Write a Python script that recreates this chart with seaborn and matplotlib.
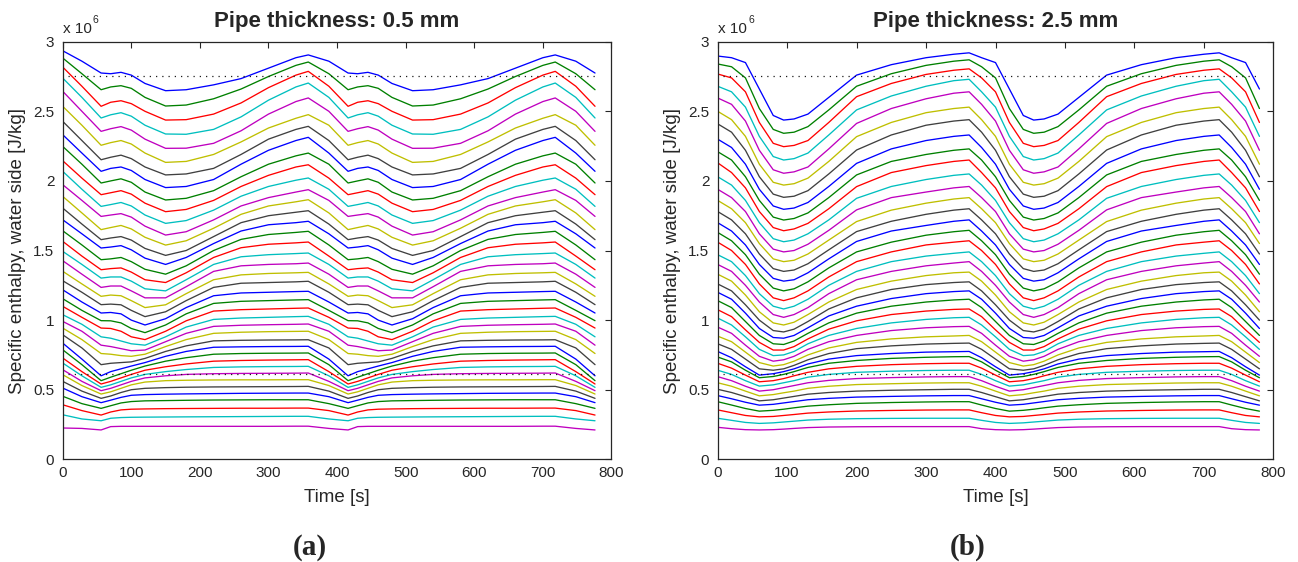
import numpy as np
import pandas as pd
import matplotlib
matplotlib.use("Agg")
import matplotlib.pyplot as plt
import seaborn as sns

# ---------------- data (enthalpy in 10^6 J/kg) ----------------
# knot times of one 360 s cycle (panel a and panel b)
t_cycle_a = [0, 28, 56, 70, 85, 100, 120, 150, 180, 220, 260, 300, 340, 358]
t_cycle_b = [0, 20, 40, 60, 80, 95, 110, 130, 160, 200, 250, 300, 340, 362]
cycle_shift = [0, 360, 720]

# one row per node (top = outlet ... bottom = inlet), values at the knot times
enthalpy_a = [
    [2.935, 2.86, 2.775, 2.77, 2.78, 2.76, 2.70, 2.648, 2.655, 2.69, 2.735, 2.81, 2.885, 2.905],
    [2.883, 2.77, 2.655, 2.675, 2.684, 2.665, 2.60, 2.538, 2.545, 2.59, 2.66, 2.75, 2.83, 2.854],
    [2.818, 2.68, 2.536, 2.565, 2.576, 2.555, 2.50, 2.437, 2.44, 2.48, 2.56, 2.67, 2.76, 2.787],
    [2.739, 2.60, 2.452, 2.475, 2.49, 2.465, 2.40, 2.337, 2.335, 2.37, 2.46, 2.58, 2.675, 2.703],
    [2.644, 2.50, 2.356, 2.375, 2.39, 2.365, 2.30, 2.234, 2.235, 2.27, 2.36, 2.48, 2.57, 2.596],
    [2.536, 2.40, 2.256, 2.275, 2.29, 2.265, 2.20, 2.133, 2.14, 2.19, 2.28, 2.38, 2.45, 2.476],
    [2.428, 2.29, 2.152, 2.17, 2.185, 2.16, 2.10, 2.043, 2.05, 2.09, 2.19, 2.30, 2.37, 2.392],
    [2.332, 2.20, 2.069, 2.09, 2.10, 2.075, 2.01, 1.952, 1.96, 2.01, 2.12, 2.22, 2.29, 2.313],
    [2.248, 2.12, 1.985, 2.00, 2.015, 1.99, 1.92, 1.863, 1.875, 1.93, 2.03, 2.12, 2.18, 2.200],
    [2.145, 2.02, 1.901, 1.915, 1.93, 1.905, 1.84, 1.779, 1.795, 1.86, 1.96, 2.04, 2.10, 2.116],
    [2.069, 1.94, 1.817, 1.83, 1.845, 1.82, 1.755, 1.695, 1.715, 1.79, 1.89, 1.96, 2.005, 2.021],
    [1.973, 1.86, 1.745, 1.755, 1.765, 1.74, 1.675, 1.611, 1.635, 1.72, 1.82, 1.88, 1.92, 1.937],
    [1.889, 1.77, 1.650, 1.665, 1.68, 1.655, 1.595, 1.539, 1.57, 1.66, 1.76, 1.82, 1.85, 1.865],
    [1.805, 1.69, 1.578, 1.59, 1.60, 1.575, 1.515, 1.465, 1.50, 1.60, 1.70, 1.75, 1.775, 1.786],
    [1.721, 1.62, 1.518, 1.525, 1.535, 1.505, 1.445, 1.40, 1.45, 1.55, 1.64, 1.685, 1.70, 1.710],
    [1.642, 1.54, 1.434, 1.44, 1.45, 1.42, 1.365, 1.33, 1.39, 1.50, 1.58, 1.615, 1.63, 1.638],
    [1.566, 1.46, 1.362, 1.37, 1.375, 1.345, 1.29, 1.27, 1.34, 1.45, 1.52, 1.545, 1.555, 1.561],
    [1.494, 1.40, 1.302, 1.31, 1.31, 1.28, 1.225, 1.21, 1.29, 1.40, 1.455, 1.47, 1.478, 1.482],
    [1.427, 1.33, 1.235, 1.245, 1.245, 1.21, 1.16, 1.16, 1.24, 1.35, 1.39, 1.40, 1.405, 1.410],
    [1.351, 1.26, 1.171, 1.18, 1.175, 1.14, 1.09, 1.11, 1.19, 1.29, 1.325, 1.335, 1.34, 1.343],
    [1.283, 1.20, 1.111, 1.115, 1.11, 1.07, 1.025, 1.06, 1.14, 1.235, 1.265, 1.27, 1.275, 1.279],
    [1.218, 1.13, 1.051, 1.055, 1.045, 1.00, 0.965, 1.01, 1.09, 1.175, 1.195, 1.20, 1.205, 1.207],
    [1.154, 1.07, 0.996, 0.995, 0.98, 0.94, 0.91, 0.965, 1.045, 1.12, 1.135, 1.14, 1.145, 1.147],
    [1.099, 1.02, 0.943, 0.94, 0.92, 0.88, 0.86, 0.92, 0.995, 1.065, 1.075, 1.08, 1.085, 1.087],
    [1.039, 0.97, 0.880, 0.87, 0.85, 0.83, 0.82, 0.88, 0.95, 1.005, 1.015, 1.02, 1.025, 1.027],
    [0.991, 0.92, 0.820, 0.81, 0.795, 0.78, 0.785, 0.845, 0.905, 0.955, 0.963, 0.967, 0.970, 0.972],
    [0.943, 0.86, 0.760, 0.755, 0.745, 0.74, 0.755, 0.81, 0.86, 0.905, 0.913, 0.917, 0.919, 0.920],
    [0.895, 0.80, 0.680, 0.69, 0.695, 0.70, 0.725, 0.775, 0.815, 0.851, 0.855, 0.857, 0.858, 0.859],
    [0.835, 0.72, 0.600, 0.63, 0.65, 0.67, 0.695, 0.74, 0.775, 0.805, 0.808, 0.810, 0.811, 0.812],
    [0.787, 0.68, 0.565, 0.59, 0.615, 0.64, 0.67, 0.705, 0.73, 0.755, 0.760, 0.762, 0.763, 0.764],
    [0.728, 0.63, 0.541, 0.56, 0.585, 0.61, 0.64, 0.665, 0.685, 0.705, 0.710, 0.713, 0.715, 0.716],
    [0.692, 0.60, 0.517, 0.535, 0.56, 0.585, 0.61, 0.63, 0.645, 0.66, 0.664, 0.666, 0.667, 0.668],
    [0.644, 0.56, 0.493, 0.51, 0.535, 0.56, 0.585, 0.60, 0.61, 0.615, 0.617, 0.618, 0.619, 0.620],
    [0.608, 0.53, 0.469, 0.485, 0.51, 0.535, 0.555, 0.565, 0.568, 0.57, 0.571, 0.571, 0.572, 0.572],
    [0.560, 0.49, 0.438, 0.455, 0.48, 0.50, 0.51, 0.515, 0.518, 0.52, 0.521, 0.522, 0.523, 0.524],
    [0.512, 0.45, 0.407, 0.425, 0.445, 0.46, 0.465, 0.468, 0.47, 0.472, 0.474, 0.475, 0.476, 0.476],
    [0.453, 0.40, 0.366, 0.385, 0.405, 0.415, 0.42, 0.422, 0.424, 0.426, 0.427, 0.428, 0.428, 0.428],
    [0.392, 0.35, 0.318, 0.34, 0.355, 0.36, 0.362, 0.364, 0.365, 0.366, 0.367, 0.367, 0.368, 0.368],
    [0.320, 0.29, 0.277, 0.295, 0.30, 0.302, 0.303, 0.304, 0.305, 0.306, 0.307, 0.308, 0.309, 0.309],
    [0.225, 0.222, 0.211, 0.235, 0.237, 0.237, 0.237, 0.237, 0.237, 0.237, 0.237, 0.237, 0.238, 0.238],
]

enthalpy_b = [
    [2.897, 2.885, 2.85, 2.66, 2.47, 2.437, 2.445, 2.48, 2.60, 2.76, 2.835, 2.885, 2.91, 2.92],
    [2.84, 2.82, 2.74, 2.52, 2.37, 2.342, 2.35, 2.39, 2.51, 2.68, 2.77, 2.83, 2.86, 2.87],
    [2.768, 2.74, 2.64, 2.42, 2.27, 2.246, 2.255, 2.29, 2.42, 2.605, 2.70, 2.765, 2.795, 2.805],
    [2.68, 2.64, 2.53, 2.32, 2.175, 2.15, 2.16, 2.20, 2.33, 2.51, 2.61, 2.68, 2.72, 2.73],
    [2.596, 2.55, 2.43, 2.22, 2.08, 2.055, 2.065, 2.10, 2.23, 2.413, 2.52, 2.59, 2.63, 2.64],
    [2.50, 2.44, 2.32, 2.12, 1.99, 1.97, 1.98, 2.02, 2.14, 2.318, 2.42, 2.49, 2.52, 2.53],
    [2.41, 2.35, 2.22, 2.03, 1.905, 1.882, 1.89, 1.93, 2.05, 2.222, 2.33, 2.40, 2.43, 2.44],
    [2.30, 2.24, 2.12, 1.94, 1.82, 1.796, 1.805, 1.845, 1.96, 2.126, 2.23, 2.29, 2.32, 2.33],
    [2.21, 2.15, 2.03, 1.86, 1.74, 1.719, 1.73, 1.77, 1.88, 2.043, 2.14, 2.19, 2.22, 2.23],
    [2.13, 2.06, 1.95, 1.78, 1.665, 1.642, 1.655, 1.695, 1.80, 1.959, 2.06, 2.11, 2.14, 2.15],
    [2.03, 1.97, 1.86, 1.70, 1.585, 1.563, 1.575, 1.62, 1.72, 1.875, 1.96, 2.01, 2.04, 2.05],
    [1.94, 1.88, 1.78, 1.62, 1.51, 1.49, 1.50, 1.545, 1.645, 1.792, 1.88, 1.92, 1.95, 1.96],
    [1.86, 1.80, 1.70, 1.55, 1.44, 1.42, 1.43, 1.475, 1.575, 1.708, 1.79, 1.84, 1.87, 1.88],
    [1.78, 1.72, 1.62, 1.475, 1.37, 1.35, 1.36, 1.405, 1.505, 1.636, 1.71, 1.76, 1.79, 1.80],
    [1.70, 1.64, 1.54, 1.40, 1.30, 1.28, 1.29, 1.34, 1.44, 1.565, 1.64, 1.68, 1.71, 1.72],
    [1.63, 1.57, 1.47, 1.33, 1.23, 1.21, 1.225, 1.275, 1.375, 1.49, 1.56, 1.61, 1.635, 1.645],
    [1.56, 1.50, 1.40, 1.26, 1.16, 1.14, 1.16, 1.21, 1.31, 1.42, 1.49, 1.54, 1.56, 1.57],
    [1.47, 1.42, 1.32, 1.19, 1.10, 1.08, 1.10, 1.15, 1.25, 1.35, 1.42, 1.46, 1.48, 1.49],
    [1.40, 1.35, 1.25, 1.13, 1.04, 1.02, 1.04, 1.09, 1.19, 1.29, 1.35, 1.39, 1.41, 1.42],
    [1.33, 1.28, 1.18, 1.06, 0.98, 0.965, 0.985, 1.04, 1.13, 1.22, 1.28, 1.32, 1.34, 1.345],
    [1.26, 1.21, 1.11, 1.00, 0.925, 0.915, 0.935, 0.99, 1.08, 1.16, 1.22, 1.255, 1.27, 1.275],
    [1.20, 1.15, 1.05, 0.94, 0.875, 0.87, 0.89, 0.945, 1.03, 1.10, 1.155, 1.19, 1.205, 1.21],
    [1.14, 1.09, 0.99, 0.89, 0.83, 0.825, 0.85, 0.905, 0.98, 1.05, 1.10, 1.13, 1.145, 1.15],
    [1.075, 1.025, 0.93, 0.84, 0.785, 0.785, 0.81, 0.865, 0.935, 0.995, 1.04, 1.065, 1.077, 1.08],
    [1.015, 0.965, 0.88, 0.79, 0.745, 0.75, 0.775, 0.83, 0.89, 0.94, 0.98, 1.005, 1.017, 1.02],
    [0.95, 0.905, 0.82, 0.74, 0.705, 0.715, 0.74, 0.79, 0.845, 0.89, 0.925, 0.945, 0.953, 0.955],
    [0.885, 0.845, 0.77, 0.695, 0.67, 0.68, 0.705, 0.75, 0.80, 0.84, 0.865, 0.88, 0.886, 0.89],
    [0.83, 0.79, 0.72, 0.65, 0.64, 0.65, 0.675, 0.715, 0.76, 0.795, 0.815, 0.828, 0.833, 0.835],
    [0.775, 0.73, 0.665, 0.605, 0.615, 0.63, 0.65, 0.685, 0.72, 0.745, 0.76, 0.77, 0.773, 0.775],
    [0.735, 0.70, 0.64, 0.586, 0.595, 0.61, 0.63, 0.66, 0.69, 0.71, 0.725, 0.733, 0.737, 0.738],
    [0.69, 0.655, 0.605, 0.557, 0.565, 0.58, 0.60, 0.625, 0.65, 0.668, 0.68, 0.687, 0.69, 0.69],
    [0.64, 0.61, 0.565, 0.526, 0.535, 0.55, 0.565, 0.59, 0.61, 0.625, 0.633, 0.638, 0.64, 0.64],
    [0.594, 0.565, 0.525, 0.49, 0.50, 0.515, 0.53, 0.55, 0.567, 0.58, 0.587, 0.592, 0.594, 0.594],
    [0.55, 0.525, 0.49, 0.456, 0.465, 0.478, 0.49, 0.51, 0.525, 0.537, 0.543, 0.548, 0.55, 0.55],
    [0.503, 0.48, 0.45, 0.42, 0.428, 0.44, 0.452, 0.468, 0.48, 0.49, 0.496, 0.50, 0.503, 0.503],
    [0.458, 0.435, 0.41, 0.389, 0.395, 0.405, 0.415, 0.428, 0.438, 0.447, 0.452, 0.456, 0.458, 0.458],
    [0.414, 0.39, 0.365, 0.346, 0.352, 0.36, 0.37, 0.382, 0.392, 0.402, 0.408, 0.412, 0.414, 0.414],
    [0.355, 0.335, 0.315, 0.305, 0.308, 0.315, 0.322, 0.332, 0.34, 0.347, 0.351, 0.354, 0.355, 0.355],
    [0.295, 0.28, 0.265, 0.258, 0.262, 0.268, 0.274, 0.282, 0.288, 0.292, 0.294, 0.295, 0.295, 0.295],
    [0.23, 0.22, 0.213, 0.211, 0.213, 0.217, 0.222, 0.228, 0.232, 0.234, 0.235, 0.235, 0.235, 0.235],
]

sat_levels = [0.613, 2.754]        # saturated liquid / vapour enthalpy
sat_span = [8, 780]                # time span of the dotted reference lines
titles = ["Pipe thickness: 0.5 mm", "Pipe thickness: 2.5 mm"]
panel_tags = ["(a)", "(b)"]
x_ticks = [0, 100, 200, 300, 400, 500, 600, 700, 800]
y_ticks = [0, 0.5, 1, 1.5, 2, 2.5, 3]
y_tick_labels = ["0", "0.5", "1", "1.5", "2", "2.5", "3"]
matlab_colors = ["#0000ff", "#008000", "#ff0000", "#00bfbf", "#bf00bf", "#bfbf00", "#404040"]


def long_frame(t_cycle, rows):
    """Repeat the read cycle for the second period and the tail up to 780 s."""
    n_tail = 3 if t_cycle[2] < 50 else 2
    times = (list(t_cycle)
             + [t + cycle_shift[1] for t in t_cycle[1:]]
             + [t + cycle_shift[2] for t in t_cycle[1:1 + n_tail]])
    recs = []
    for k, row in enumerate(rows):
        vals = list(row) + list(row[1:]) + list(row[1:1 + n_tail])
        for t, v in zip(times, vals):
            recs.append((k, t, v))
    return pd.DataFrame(recs, columns=["node", "time", "h"])


sns.set_theme(style="white")
plt.rcParams["font.family"] = ["Liberation Sans", "DejaVu Sans"]

fig = plt.figure(figsize=(12.98, 5.62), dpi=100)
axes = [fig.add_axes([0.0483, 0.1827, 0.4228, 0.7431]),
        fig.add_axes([0.5529, 0.1827, 0.4281, 0.7431])]

for ax, tc, rows, title, tag in zip(axes, [t_cycle_a, t_cycle_b],
                                     [enthalpy_a, enthalpy_b], titles, panel_tags):
    df = long_frame(tc, rows)
    palette = {k: matlab_colors[k % 7] for k in range(len(rows))}
    sns.lineplot(data=df, x="time", y="h", hue="node", palette=palette,
                 estimator=None, sort=False, legend=False, linewidth=0.95, ax=ax)
    ax.hlines(sat_levels, sat_span[0], sat_span[1], colors="k",
              linestyles=(0, (1, 4)), linewidth=0.9)
    ax.set_xlim(0, 800)
    ax.set_ylim(0, 3)
    ax.set_xticks(x_ticks)
    ax.set_xticklabels([str(v) for v in x_ticks])
    ax.set_yticks(y_ticks)
    ax.set_yticklabels(y_tick_labels)
    ax.tick_params(direction="in", top=True, right=True, length=4.5, width=0.8,
                   labelsize=11, colors="#262626", pad=5)
    ax.tick_params(axis="y", pad=6)
    for sp in ax.spines.values():
        sp.set_color("#262626")
        sp.set_linewidth(0.9)
    ax.set_xlabel("Time [s]", fontsize=13.5, labelpad=6, color="#262626")
    ax.set_ylabel("Specific enthalpy, water side [J/kg]", fontsize=13.5,
                  labelpad=5, color="#262626")
    ax.set_title(title, fontsize=16, fontweight="bold", pad=10.5)
    ax.text(0.0, 1.02, "x 10", transform=ax.transAxes, fontsize=11,
            ha="left", va="baseline", color="#262626")
    ax.text(0.055, 1.045, "6", transform=ax.transAxes, fontsize=7.5,
            ha="left", va="baseline", color="#262626")
    ax.text(0.45, -0.21, tag, transform=ax.transAxes, fontsize=21,
            fontweight="bold", family="Liberation Serif", ha="center", va="center")

fig.savefig("out.png", dpi=100)
